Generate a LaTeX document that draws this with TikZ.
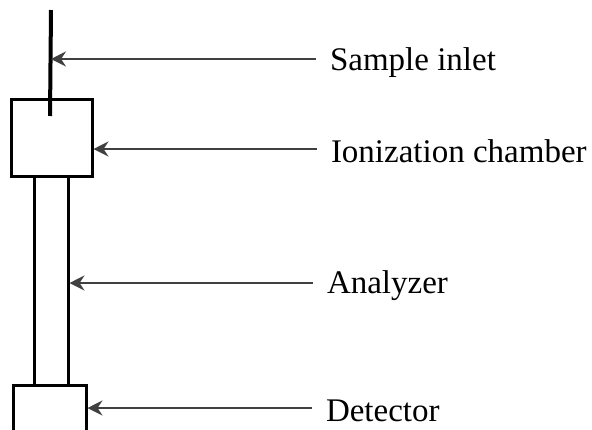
\documentclass[tikz,border=0pt]{standalone}
\usepackage{fontspec}
\setmainfont{Liberation Serif}
\usetikzlibrary{arrows.meta}
\begin{document}
\begin{tikzpicture}[x=1pt,y=-1pt,
  part/.style={draw=black,line width=3pt},
  arr/.style={draw=black!75,line width=1.3pt,-{Stealth[length=15pt,width=15pt,inset=5pt]}},
  lbl/.style={anchor=base west,inner sep=0pt,outer xsep=14pt,font=\fontsize{33}{40}\selectfont}]
\useasboundingbox (0,0) rectangle (592,429);
% shapes
\draw[part] (11,99) rectangle (92,176);
\draw[part] (34,176) -- (34,385);
\draw[part] (68,176) -- (68,385);
\draw[part] (13,432) -- (13,385) -- (86,385) -- (86,432);
\draw[draw=black,line width=4pt] (51,10) -- (50,116);
% anchor points on shapes
\coordinate (tipS) at (51,59);
\coordinate (tipI) at (93.5,149);
\coordinate (tipA) at (69.5,283);
\coordinate (tipD) at (87.5,408);
% labels
\node[lbl] (lS) at (316,70.7) {Sample inlet};
\node[lbl] (lI) at (317,162) {Ionization chamber};
\node[lbl] (lA) at (313,293) {Analyzer};
\node[lbl] (lD) at (312,421) {Detector};
% connectors
\draw[arr] (lS.west |- tipS) -- (tipS);
\draw[arr] (lI.west |- tipI) -- (tipI);
\draw[arr] (lA.west |- tipA) -- (tipA);
\draw[arr] (lD.west |- tipD) -- (tipD);
\end{tikzpicture}
\end{document}
